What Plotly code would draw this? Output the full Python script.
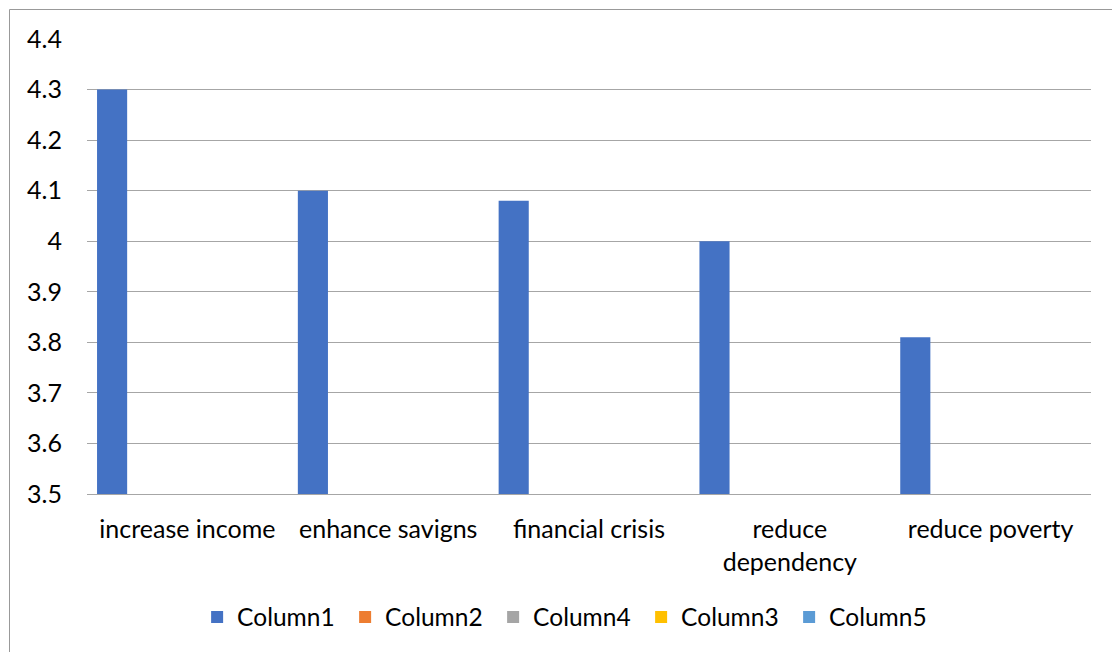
import plotly.graph_objects as go

categories = ["increase income", "enhance savigns", "financial crisis", "reduce<br>dependency", "reduce poverty"]
column1 = [4.3, 4.1, 4.08, 4.0, 3.81]
series_names = ["Column1", "Column2", "Column4", "Column3", "Column5"]
series_colors = ["#4472C4", "#ED7D31", "#A5A5A5", "#FFC000", "#5B9BD5"]
y_tick_vals = [3.5, 3.6, 3.7, 3.8, 3.9, 4.0, 4.1, 4.2, 4.3, 4.4]
y_tick_text = ["3.5", "3.6", "3.7", "3.8", "3.9", "4", "4.1", "4.2", "4.3", "4.4"]

W, H = 1112, 652
L, R, T, B = 87, 1091, 39, 494
FONT = "Lato"

fig = go.Figure()
for i, name in enumerate(series_names):
    vals = column1 if i == 0 else [None] * len(categories)
    fig.add_trace(go.Bar(
        x=categories, y=vals, name=name,
        marker=dict(color=series_colors[i], line=dict(width=0)),
        width=0.15, offset=-0.45,
    ))

def px_x(p):
    return (p - L) / (R - L)

def px_y(p):
    return (B - p) / (B - T)

grid = "#A6A6A6"
fig.update_layout(
    width=W, height=H,
    margin=dict(l=L, r=W - R, t=T, b=H - B, pad=0),
    paper_bgcolor="white", plot_bgcolor="white",
    font=dict(family=FONT, size=25, color="#000000"),
    barmode="overlay",
    showlegend=True,
    legend=dict(
        orientation="h", xref="container", yref="container",
        x=0.51, xanchor="center", y=1 - 617 / H, yanchor="middle",
        font=dict(family=FONT, size=24.5, color="#000000"),
        entrywidth=103, entrywidthmode="pixels",
        bgcolor="rgba(0,0,0,0)",
    ),
    xaxis=dict(
        type="category", showgrid=False, showline=True, linecolor=grid, linewidth=1,
        ticks="", ticklabelstandoff=13, tickfont=dict(family=FONT, size=25),
        range=[-0.5, 4.5],
    ),
    yaxis=dict(
        range=[3.5, 4.4], tickvals=y_tick_vals, ticktext=y_tick_text,
        showgrid=True, gridcolor=grid, gridwidth=1, zeroline=False,
        showline=False, ticks="", ticklabelstandoff=24,
        tickfont=dict(family=FONT, size=25),
    ),
    shapes=[
        dict(type="line", xref="paper", yref="paper",
             x0=px_x(9.5), y0=px_y(9.5), x1=px_x(W + 5), y1=px_y(9.5),
             line=dict(color="#999999", width=1)),
        dict(type="line", xref="paper", yref="paper",
             x0=px_x(9.5), y0=px_y(9.5), x1=px_x(9.5), y1=px_y(H + 5),
             line=dict(color="#999999", width=1)),
    ],
)

fig.write_html("out.html")
